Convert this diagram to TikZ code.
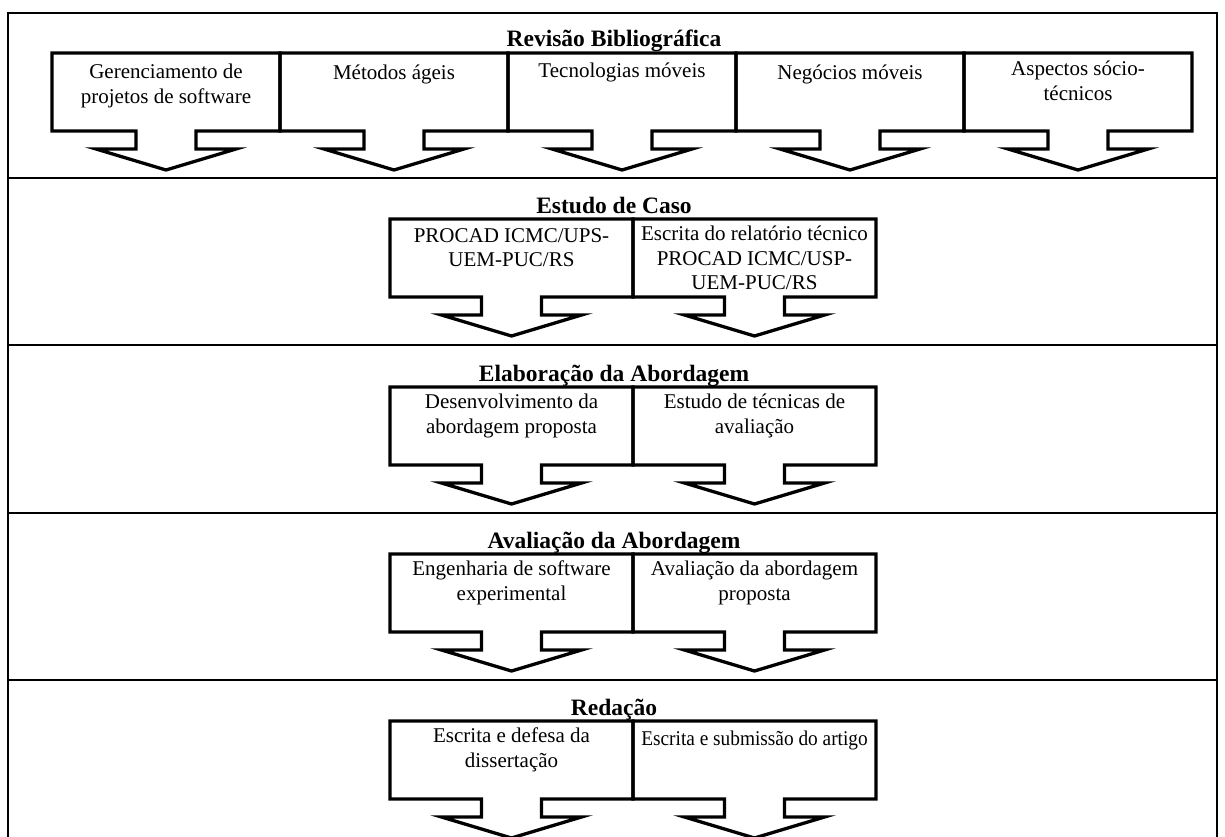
\documentclass[tikz,border=0pt]{standalone}
\usepackage{fontspec}
\usepackage{graphicx}
\setmainfont{Liberation Serif}

% One stage box: a rectangle with a down arrow below it.
% [#1] extra text drop, #2 left x, #3 right x, #4 top y, #5 node name, #6 text
\newcommand\stagebox[6][0]{%
  \pgfmathsetmacro\bxc{(#2+#3)/2}%
  \draw[callout] (#2,#4) -- (#3,#4) -- (#3,#4+78)
    -- (\bxc+30,#4+78) -- (\bxc+30,#4+96) -- (\bxc+70,#4+96)
    -- (\bxc,#4+117)
    -- (\bxc-70,#4+96) -- (\bxc-30,#4+96) -- (\bxc-30,#4+78)
    -- (#2,#4+78) -- cycle;
  \node[boxtext] (#5) at (\bxc,#4+7+#1) {#6};
}

\begin{document}
\begin{tikzpicture}[x=1pt,y=-1pt,
  frame/.style={line width=2pt, black},
  callout/.style={line width=3.3pt, black, line join=miter},
  boxtext/.style={font=\fontsize{21}{24.5}\selectfont, align=center,
    inner sep=0pt, anchor=north, execute at begin node=\strut},
  stagetitle/.style={font=\fontsize{23.5}{26}\selectfont\bfseries,
    inner sep=0pt, anchor=base}
]
\useasboundingbox (0,0) rectangle (1225,837);

% outer frame and stage separators
\coordinate (fTL) at (8,13);
\coordinate (fTR) at (1217,13);
\coordinate (fBL) at (8,837);
\coordinate (fBR) at (1217,837);
\draw[frame] (fBL) -- (fTL) -- (fTR) -- (fBR);
\foreach \sy/\sn in {178/s2,345/s3,513/s4,680/s5}{
  \coordinate (\sn L) at (8,\sy);
  \coordinate (\sn R) at (1217,\sy);
  \draw[frame] (\sn L) -- (\sn R);
}

% Stage 1
\node[stagetitle] (t1) at (614,47) {Revisão Bibliográfica};
\stagebox[4]{52}{280}{53}{b11}{Gerenciamento de\\projetos de software}
\stagebox[2]{280}{508}{53}{b12}{Métodos ágeis}
\stagebox{508}{736}{53}{b13}{Tecnologias móveis}
\stagebox[2]{736}{964}{53}{b14}{Negócios móveis}
\stagebox[1]{964}{1192}{53}{b15}{Aspectos sócio-\\técnicos}

% Stage 2
\node[stagetitle] (t2) at (614,213) {Estudo de Caso};
\stagebox[2]{390}{633}{219}{b21}{PROCAD ICMC/UPS-\\UEM-PUC/RS}
\stagebox{633}{876}{219}{b22}{Escrita do relatório técnico\\PROCAD ICMC/USP-\\UEM-PUC/RS}

% Stage 3
\node[stagetitle] (t3) at (614,381) {Elaboração da Abordagem};
\stagebox{390}{633}{387}{b31}{Desenvolvimento da\\abordagem proposta}
\stagebox{633}{876}{387}{b32}{Estudo de técnicas de\\avaliação}

% Stage 4
\node[stagetitle] (t4) at (614,548) {Avaliação da Abordagem};
\stagebox{390}{633}{554}{b41}{Engenharia de software\\experimental}
\stagebox{633}{876}{554}{b42}{Avaliação da abordagem\\proposta}

% Stage 5
\node[stagetitle] (t5) at (614,715) {Redação};
\stagebox{390}{633}{721}{b51}{Escrita e defesa da\\dissertação}
\stagebox{633}{876}{721}{b52}{\scalebox{0.92}[1]{Escrita e submissão do artigo}}
\end{tikzpicture}
\end{document}
